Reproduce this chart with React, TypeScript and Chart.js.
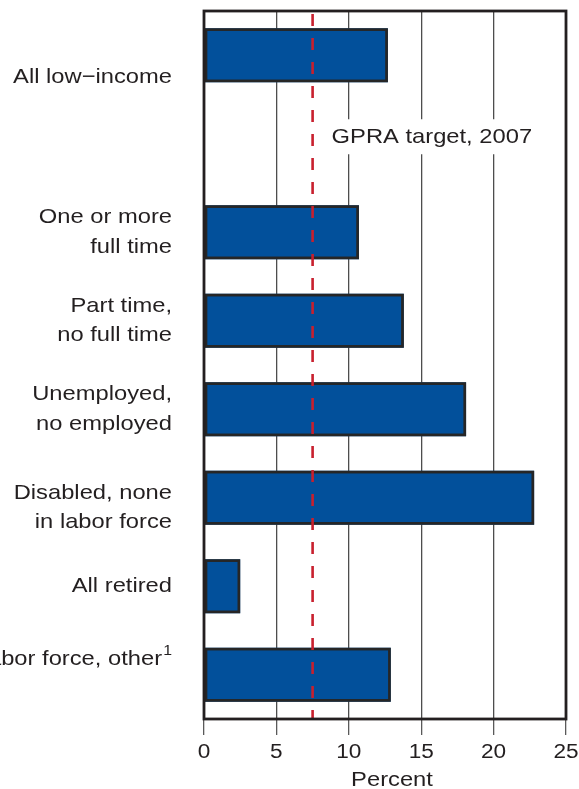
import React, { useEffect, useRef } from "react";
import { Chart, registerables } from "chart.js";

Chart.register(...registerables);

// ---- data ----
const CATEGORY_LINES: string[][] = [
  ["All low\u2212income"],
  [""],
  ["One or more", "full time"],
  ["Part time,", "no full time"],
  ["Unemployed,", "no employed"],
  ["Disabled, none", "in labor force"],
  ["All retired"],
  ["Not in labor force, other^1"],
];
const VALUES: (number | null)[] = [12.7, null, 10.7, 13.8, 18.1, 22.8, 2.5, 12.9];
const X_MIN = 0;
const X_MAX = 25;
const X_STEP = 5;
const GPRA_TARGET = 7.5;
const GPRA_LABEL = "GPRA target, 2007";
const X_TITLE = "Percent";
// vertical nudge (px) of each category label relative to its bar centre, as in the source
const LABEL_NUDGE = [22, 0, 0, 0, 0, 10, 0, -16];

const FONT = "'Liberation Sans', Arial, Helvetica, sans-serif";
const TEXT = "#231f20";
const STRETCH = 1.13; // source lettering is wider than Arial

function drawText(ctx: CanvasRenderingContext2D, text: string, x: number, y: number, align: "left" | "right" | "center", size: number) {
  let main = text;
  let sup = "";
  const k = text.indexOf("^");
  if (k >= 0) {
    main = text.slice(0, k);
    sup = text.slice(k + 1);
  }
  ctx.save();
  ctx.translate(x, y);
  ctx.scale(STRETCH, 1);
  ctx.font = `${size}px ${FONT}`;
  const wMain = ctx.measureText(main).width;
  let wSup = 0;
  const supSize = Math.round(size * 0.66);
  if (sup) {
    ctx.font = `${supSize}px ${FONT}`;
    wSup = ctx.measureText(sup).width + 1;
  }
  const total = wMain + wSup;
  let start = 0;
  if (align === "right") start = -total;
  else if (align === "center") start = -total / 2;
  ctx.textAlign = "left";
  ctx.font = `${size}px ${FONT}`;
  ctx.fillText(main, start, 0);
  if (sup) {
    ctx.font = `${supSize}px ${FONT}`;
    ctx.fillText(sup, start + wMain + 1, -size * 0.36);
  }
  ctx.restore();
  return total * STRETCH;
}

const decorations = {
  id: "decorations",
  afterDatasetsDraw(chart: any) {
    const { ctx, chartArea: a, scales } = chart;
    const xs = scales.x;
    const ys = scales.y;
    ctx.save();
    // bar outlines
    const meta = chart.getDatasetMeta(0);
    const bw = 2.7;
    ctx.strokeStyle = "#262626";
    ctx.lineWidth = bw;
    meta.data.forEach((el: any, i: number) => {
      if (VALUES[i] == null) return;
      const p = el.getProps(["x", "y", "base", "height"], true);
      const l = Math.min(p.base, p.x);
      const r = Math.max(p.base, p.x);
      const t = p.y - p.height / 2;
      ctx.strokeRect(l + bw / 2, t + bw / 2, r - l - bw, p.height - bw);
    });
    // target dashed line
    const tx = xs.getPixelForValue(GPRA_TARGET);
    ctx.strokeStyle = "#c8202e";
    ctx.lineWidth = 2.6;
    ctx.setLineDash([12, 12]);
    ctx.beginPath();
    ctx.moveTo(tx, a.top + 3);
    ctx.lineTo(tx, a.bottom);
    ctx.stroke();
    ctx.setLineDash([]);
    // target label with white box
    ctx.font = `21px ${FONT}`;
    const lx = tx + 19;
    const ly = ys.getPixelForValue(1) - 7;
    const w = ctx.measureText(GPRA_LABEL).width * STRETCH;
    ctx.fillStyle = "#ffffff";
    ctx.fillRect(lx - 6, ly - 17.5, w + 12, 35);
    ctx.fillStyle = TEXT;
    ctx.textBaseline = "middle";
    drawText(ctx, GPRA_LABEL, lx, ly, "left", 21);
    // plot frame
    ctx.strokeStyle = "#231f20";
    ctx.lineWidth = 2.8;
    ctx.strokeRect(a.left, a.top, a.right - a.left, a.bottom - a.top);
    ctx.restore();
  },
  afterDraw(chart: any) {
    const { ctx, chartArea: a, scales } = chart;
    const xs = scales.x;
    const ys = scales.y;
    ctx.save();
    ctx.fillStyle = TEXT;
    ctx.textBaseline = "middle";
    const lh = 29.3;
    CATEGORY_LINES.forEach((lines, i) => {
      const cy = ys.getPixelForValue(i) + LABEL_NUDGE[i];
      const n = lines.length;
      lines.forEach((t, j) => {
        drawText(ctx, t, a.left - 32, cy + (j - (n - 1) / 2) * lh, "right", 21);
      });
    });
    // x tick labels
    xs.ticks.forEach((t: any) => {
      drawText(ctx, String(t.value), xs.getPixelForValue(t.value), a.bottom + 33, "center", 20);
    });
    ctx.textBaseline = "alphabetic";
    drawText(ctx, X_TITLE, (a.left + a.right) / 2 + 7, xs.bottom - 3, "center", 21);
    ctx.restore();
  },
};

export default function App() {
  const ref = useRef<HTMLCanvasElement | null>(null);
  useEffect(() => {
    if (!ref.current) return;
    const chart = new Chart(ref.current, {
      type: "bar",
      data: {
        labels: CATEGORY_LINES.map((l) => l.join(" ").replace("^", "")),
        datasets: [
          {
            data: VALUES as any,
            backgroundColor: "#02509b",
            borderWidth: 0,
            barPercentage: 0.61,
            categoryPercentage: 1,
          },
        ],
      },
      options: {
        indexAxis: "y",
        animation: false,
        responsive: false,
        devicePixelRatio: 1,
        layout: { autoPadding: false, padding: { top: 11, right: 13, left: 0, bottom: 0 } },
        plugins: { legend: { display: false }, tooltip: { enabled: false } },
        scales: {
          x: {
            type: "linear",
            min: X_MIN,
            max: X_MAX,
            afterFit: (s: any) => {
              s.height = 70;
            },
            ticks: {
              stepSize: X_STEP,
              display: false,
            },
            grid: {
              color: "#4d4d4d",
              lineWidth: 1.3,
              tickLength: 16,
              tickColor: "#5a5a5a",
              tickWidth: 1.3,
              drawTicks: true,
            },
            border: { display: false },
          },
          y: {
            type: "category",
            afterFit: (s: any) => {
              s.width = 204;
            },
            ticks: { display: false },
            grid: { display: false },
            border: { display: false },
          },
        },
      },
      plugins: [decorations],
    } as any);
    return () => chart.destroy();
  }, []);
  return (
    <canvas
      ref={ref}
      width={579}
      height={789}
      style={{ position: "absolute", left: 0, top: 0, width: 579, height: 789 }}
    />
  );
}
